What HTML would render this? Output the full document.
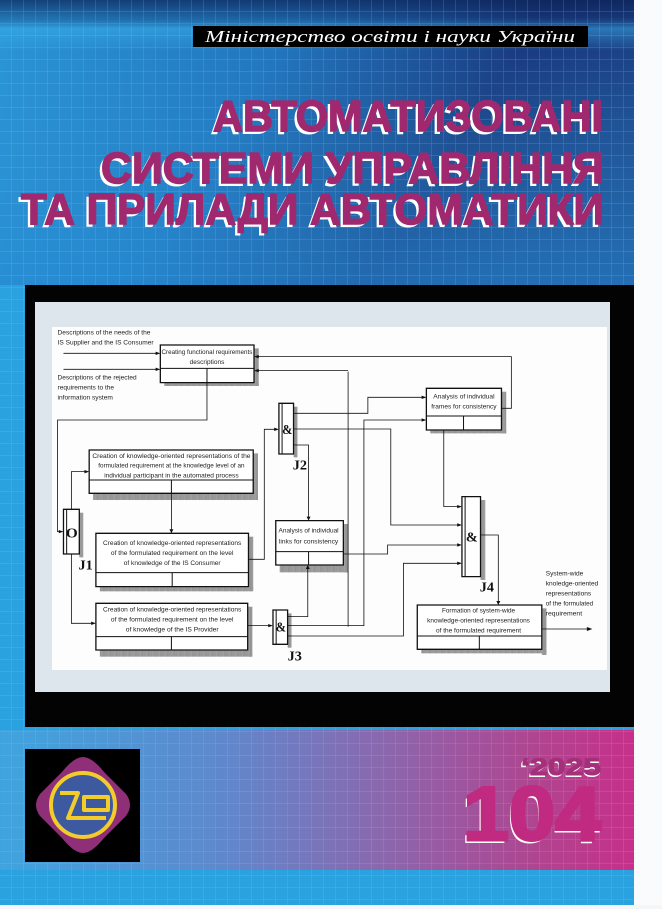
<!DOCTYPE html>
<html><head><meta charset="utf-8"><style>
html,body{margin:0;padding:0;background:#fff;}
body{width:662px;height:909px;overflow:hidden;position:relative;font-family:"Liberation Sans",sans-serif;}
</style></head><body>
<svg width="662" height="909" viewBox="0 0 662 909" xmlns="http://www.w3.org/2000/svg" style="position:absolute;left:0;top:0">
<defs>
<linearGradient id="top" x1="0" y1="0" x2="1" y2="0.3">
<stop offset="0" stop-color="#2b98d8"/><stop offset="0.45" stop-color="#2275bd"/><stop offset="0.8" stop-color="#1a3b80"/><stop offset="1" stop-color="#1c4388"/>
</linearGradient>
<linearGradient id="topv" x1="0" y1="0" x2="0" y2="1">
<stop offset="0" stop-color="#0a1d50" stop-opacity="0.7"/><stop offset="0.06" stop-color="#0a1d50" stop-opacity="0.3"/><stop offset="0.1" stop-color="#3ab0e8" stop-opacity="0.5"/><stop offset="0.18" stop-color="#3ab0e8" stop-opacity="0"/><stop offset="1" stop-color="#2a9ae0" stop-opacity="0.5"/>
</linearGradient>
<linearGradient id="band" x1="0" y1="0" x2="1" y2="0">
<stop offset="0" stop-color="#3fa4de"/><stop offset="0.35" stop-color="#5f88cc"/><stop offset="0.6" stop-color="#8a68ae"/><stop offset="0.85" stop-color="#b0448f"/><stop offset="1" stop-color="#c6308a"/>
</linearGradient>
<pattern id="grid" width="12" height="12" patternUnits="userSpaceOnUse">
<path d="M12 0V12M0 12H12" stroke="#7fd0f5" stroke-opacity="0.35" stroke-width="1" fill="none"/>
</pattern>
<pattern id="hatch" width="3" height="3" patternUnits="userSpaceOnUse">
<rect width="3" height="3" fill="#aaa"/><rect width="1.5" height="1.5" fill="#666"/>
</pattern>
</defs>
<rect x="0" y="0" width="634" height="909" fill="#2aa2e0"/>
<rect x="0" y="0" width="634" height="285" fill="url(#top)"/>
<rect x="0" y="0" width="634" height="285" fill="url(#topv)"/>
<rect x="0" y="730" width="634" height="140" fill="url(#band)"/>
<rect x="0" y="0" width="634" height="905" fill="url(#grid)"/>
<rect x="634" y="0" width="28" height="909" fill="#fafbfc"/>
<rect x="0" y="905" width="662" height="4" fill="#f4f6f8"/>
<rect x="193" y="26" width="395" height="21" fill="#000"/>
<text x="390" y="42" text-anchor="middle" font-family="Liberation Serif,serif" font-style="italic" font-size="17" fill="#fff" textLength="370" lengthAdjust="spacingAndGlyphs">Міністерство освіти і науки України</text>
<g font-family="Liberation Sans,sans-serif" font-weight="bold" font-size="44">
<text x="210" y="134" fill="#fff" textLength="390" lengthAdjust="spacingAndGlyphs">АВТОМАТИЗОВАНІ</text>
<text x="213" y="131" fill="#a0286e" stroke="#a0286e" stroke-width="1.5" textLength="390" lengthAdjust="spacingAndGlyphs">АВТОМАТИЗОВАНІ</text>
<text x="98" y="186" fill="#fff" textLength="503" lengthAdjust="spacingAndGlyphs">СИСТЕМИ УПРАВЛІННЯ</text>
<text x="101" y="183" fill="#a0286e" stroke="#a0286e" stroke-width="1.5" textLength="503" lengthAdjust="spacingAndGlyphs">СИСТЕМИ УПРАВЛІННЯ</text>
<text x="18" y="227" fill="#fff" textLength="583" lengthAdjust="spacingAndGlyphs">ТА ПРИЛАДИ АВТОМАТИКИ</text>
<text x="21" y="224" fill="#a0286e" stroke="#a0286e" stroke-width="1.5" textLength="583" lengthAdjust="spacingAndGlyphs">ТА ПРИЛАДИ АВТОМАТИКИ</text>
</g>
<rect x="25" y="285" width="609" height="442" fill="#030303"/>
<rect x="35" y="302" width="575" height="390" fill="#dde6ec"/>
<rect x="52" y="327" width="555" height="343" fill="#fdfdfd"/>
<g transform="translate(20,280) scale(0.3953,0.3333)" fill="none" stroke="#111" stroke-width="1">
<g fill="url(#hatch)" stroke="none">
<rect x="592" y="205" width="12" height="113"/><rect x="365" y="308" width="239" height="10"/>
<rect x="1218" y="335" width="12" height="125"/><rect x="1038" y="450" width="192" height="10"/>
<rect x="692" y="380" width="10" height="152"/>
<rect x="590" y="520" width="12" height="140"/><rect x="185" y="640" width="417" height="20"/>
<rect x="150" y="698" width="10" height="134"/>
<rect x="578" y="770" width="12" height="160"/><rect x="202" y="920" width="388" height="14"/>
<rect x="818" y="732" width="12" height="145"/><rect x="657" y="855" width="173" height="22"/>
<rect x="1165" y="660" width="12" height="240"/>
<rect x="576" y="980" width="12" height="150"/><rect x="202" y="1110" width="386" height="20"/>
<rect x="677" y="1000" width="10" height="103"/>
<rect x="1320" y="985" width="12" height="140"/><rect x="1015" y="1108" width="317" height="12"/>
</g>
<g fill="#fff" stroke-width="1.3">
<rect x="355" y="195" width="237" height="113" vector-effect="non-scaling-stroke"/>
<rect x="1028" y="325" width="190" height="125" vector-effect="non-scaling-stroke"/>
<rect x="655" y="370" width="37" height="152" vector-effect="non-scaling-stroke"/>
<rect x="175" y="510" width="415" height="130" vector-effect="non-scaling-stroke"/>
<rect x="110" y="688" width="40" height="134" vector-effect="non-scaling-stroke"/>
<rect x="192" y="760" width="386" height="160" vector-effect="non-scaling-stroke"/>
<rect x="647" y="722" width="171" height="133" vector-effect="non-scaling-stroke"/>
<rect x="1118" y="650" width="47" height="240" vector-effect="non-scaling-stroke"/>
<rect x="192" y="970" width="384" height="140" vector-effect="non-scaling-stroke"/>
<rect x="640" y="990" width="37" height="103" vector-effect="non-scaling-stroke"/>
<rect x="1005" y="975" width="315" height="133" vector-effect="non-scaling-stroke"/>
</g>
<path vector-effect="non-scaling-stroke" stroke-width="1" d="M355 265H592M473 265V308M1028 408H1218M1122 408V450M175 600H590M383 600V640M192 878H578M385 878V920M647 815H818M730 815V855M192 1070H576M383 1070V1110M1005 1068H1320M1162 1068V1108M663 370V522M118 688V822M1126 650V890M648 990V1093"/>
<path vector-effect="non-scaling-stroke" stroke-width="0.8" d="M110 220H350M110 268H350M473 308V420H95V755H106M130 688V575H171M130 822V1030H188M383 640V755M578 838H618V448H651M576 1037H636M692 400H880V352H1024M692 447H938V735H1114M692 495H730V717M830 275V1040M830 272H597M677 1037H870V420H1024M1218 385H1243V230H597M1072 450V680H1114M818 822H930V795H1114M677 1068H970V850H1114M677 1010H728V860M1165 765H1210V970M1320 1047H1444"/>
<g fill="#111" stroke="none">
<path d="M355 220l-12 -5v10zM355 268l-12 -5v10zM110 755l-12 -5v10zM175 575l-12 -5v10zM192 1030l-12 -5v10zM383 760l-5 -12h10zM655 448l-12 -5v10zM640 1037l-12 -5v10zM1028 352l-12 -5v10zM1028 420l-12 -5v10zM1118 735l-12 -5v10zM1118 680l-12 -5v10zM1118 795l-12 -5v10zM1118 850l-12 -5v10zM730 722l-5 -12h10zM728 855l-5 12h10zM592 230l12 -5v10zM592 272l12 -5v10zM1210 975l-5 -12h10zM1448 1047l-14 -6v12z"/>
</g>
<g fill="#222" stroke="none" font-family="Liberation Sans,sans-serif" font-size="19">
<text x="95" y="163" textLength="235" lengthAdjust="spacingAndGlyphs">Descriptions of the needs of the</text>
<text x="95" y="193" textLength="243" lengthAdjust="spacingAndGlyphs">IS Supplier and the IS Consumer</text>
<text x="95" y="298" textLength="200" lengthAdjust="spacingAndGlyphs">Descriptions of the rejected</text>
<text x="95" y="328" textLength="143" lengthAdjust="spacingAndGlyphs">requirements to the</text>
<text x="95" y="358" textLength="140" lengthAdjust="spacingAndGlyphs">information system</text>
<g text-anchor="middle">
<text x="473" y="222" textLength="230" lengthAdjust="spacingAndGlyphs">Creating functional requirements</text>
<text x="473" y="252" textLength="88" lengthAdjust="spacingAndGlyphs">descriptions</text>
<text x="1123" y="356" textLength="155" lengthAdjust="spacingAndGlyphs">Analysis of individual</text>
<text x="1123" y="386" textLength="165" lengthAdjust="spacingAndGlyphs">frames for consistency</text>
<text x="383" y="534" textLength="400" lengthAdjust="spacingAndGlyphs">Creation of knowledge-oriented representations of the</text>
<text x="383" y="563" textLength="370" lengthAdjust="spacingAndGlyphs">formulated requirement at the knowledge level of an</text>
<text x="383" y="592" textLength="340" lengthAdjust="spacingAndGlyphs">individual participant in the automated process</text>
<text x="385" y="795" textLength="350" lengthAdjust="spacingAndGlyphs">Creation of knowledge-oriented representations</text>
<text x="385" y="825" textLength="310" lengthAdjust="spacingAndGlyphs">of the formulated requirement on the level</text>
<text x="385" y="855" textLength="245" lengthAdjust="spacingAndGlyphs">of knowledge of the IS Consumer</text>
<text x="730" y="758" textLength="152" lengthAdjust="spacingAndGlyphs">Analysis of individual</text>
<text x="730" y="790" textLength="150" lengthAdjust="spacingAndGlyphs">links for consistency</text>
<text x="385" y="995" textLength="350" lengthAdjust="spacingAndGlyphs">Creation of knowledge-oriented representations</text>
<text x="385" y="1025" textLength="310" lengthAdjust="spacingAndGlyphs">of the formulated requirement on the level</text>
<text x="385" y="1055" textLength="235" lengthAdjust="spacingAndGlyphs">of knowledge of the IS Provider</text>
<text x="1160" y="998" textLength="185" lengthAdjust="spacingAndGlyphs">Formation of system-wide</text>
<text x="1160" y="1028" textLength="260" lengthAdjust="spacingAndGlyphs">knowledge-oriented representations</text>
<text x="1160" y="1058" textLength="215" lengthAdjust="spacingAndGlyphs">of the formulated requirement</text>
</g>
<text x="1330" y="886" textLength="95" lengthAdjust="spacingAndGlyphs">System-wide</text>
<text x="1330" y="916" textLength="133" lengthAdjust="spacingAndGlyphs">knoledge-oriented</text>
<text x="1330" y="946" textLength="115" lengthAdjust="spacingAndGlyphs">representations</text>
<text x="1330" y="976" textLength="120" lengthAdjust="spacingAndGlyphs">of the formulated</text>
<text x="1330" y="1006" textLength="92" lengthAdjust="spacingAndGlyphs">requirement</text>
</g>
<g fill="#111" stroke="none" font-family="Liberation Serif,serif" font-weight="bold" font-size="42">
<text x="663" y="462" textLength="26" lengthAdjust="spacingAndGlyphs">&amp;</text>
<text x="647" y="1055" textLength="26" lengthAdjust="spacingAndGlyphs">&amp;</text>
<text x="1128" y="785" textLength="30" lengthAdjust="spacingAndGlyphs">&amp;</text>
<text x="116" y="772" textLength="30" lengthAdjust="spacingAndGlyphs">O</text>
<text x="690" y="568" textLength="36" lengthAdjust="spacingAndGlyphs">J2</text>
<text x="148" y="868" textLength="36" lengthAdjust="spacingAndGlyphs">J1</text>
<text x="1163" y="935" textLength="36" lengthAdjust="spacingAndGlyphs">J4</text>
<text x="677" y="1142" textLength="36" lengthAdjust="spacingAndGlyphs">J3</text>
</g>
</g>
<rect x="25" y="749" width="115" height="113" fill="#000"/>
<path d="M83 757 Q92 757 104 772 L126 794 Q134 805 126 816 L104 838 Q92 853 83 853 Q74 853 62 838 L40 816 Q32 805 40 794 L62 772 Q74 757 83 757Z" fill="#8e2f78"/>
<circle cx="83" cy="805" r="32" fill="#3d5aa0" stroke="#f2cc2a" stroke-width="4"/>
<path d="M60 793H78L68 818H106M84 797H108V810H84Z" fill="none" stroke="#f2cc2a" stroke-width="4" stroke-linejoin="round"/>
<g font-family="Liberation Sans,sans-serif" font-weight="bold">
<text x="519" y="777" font-size="24" fill="#fff" textLength="82" lengthAdjust="spacingAndGlyphs">‘2025</text>
<text x="521" y="775" font-size="24" fill="#a4307a" stroke="#a4307a" stroke-width="1" textLength="80" lengthAdjust="spacingAndGlyphs">‘2025</text>
<text x="460" y="843" font-size="76" fill="#fff" textLength="140" lengthAdjust="spacingAndGlyphs">104</text>
<text x="463" y="840" font-size="76" fill="#c02a80" stroke="#c02a80" stroke-width="3" textLength="138" lengthAdjust="spacingAndGlyphs">104</text>
</g>
</svg>
</body></html>
